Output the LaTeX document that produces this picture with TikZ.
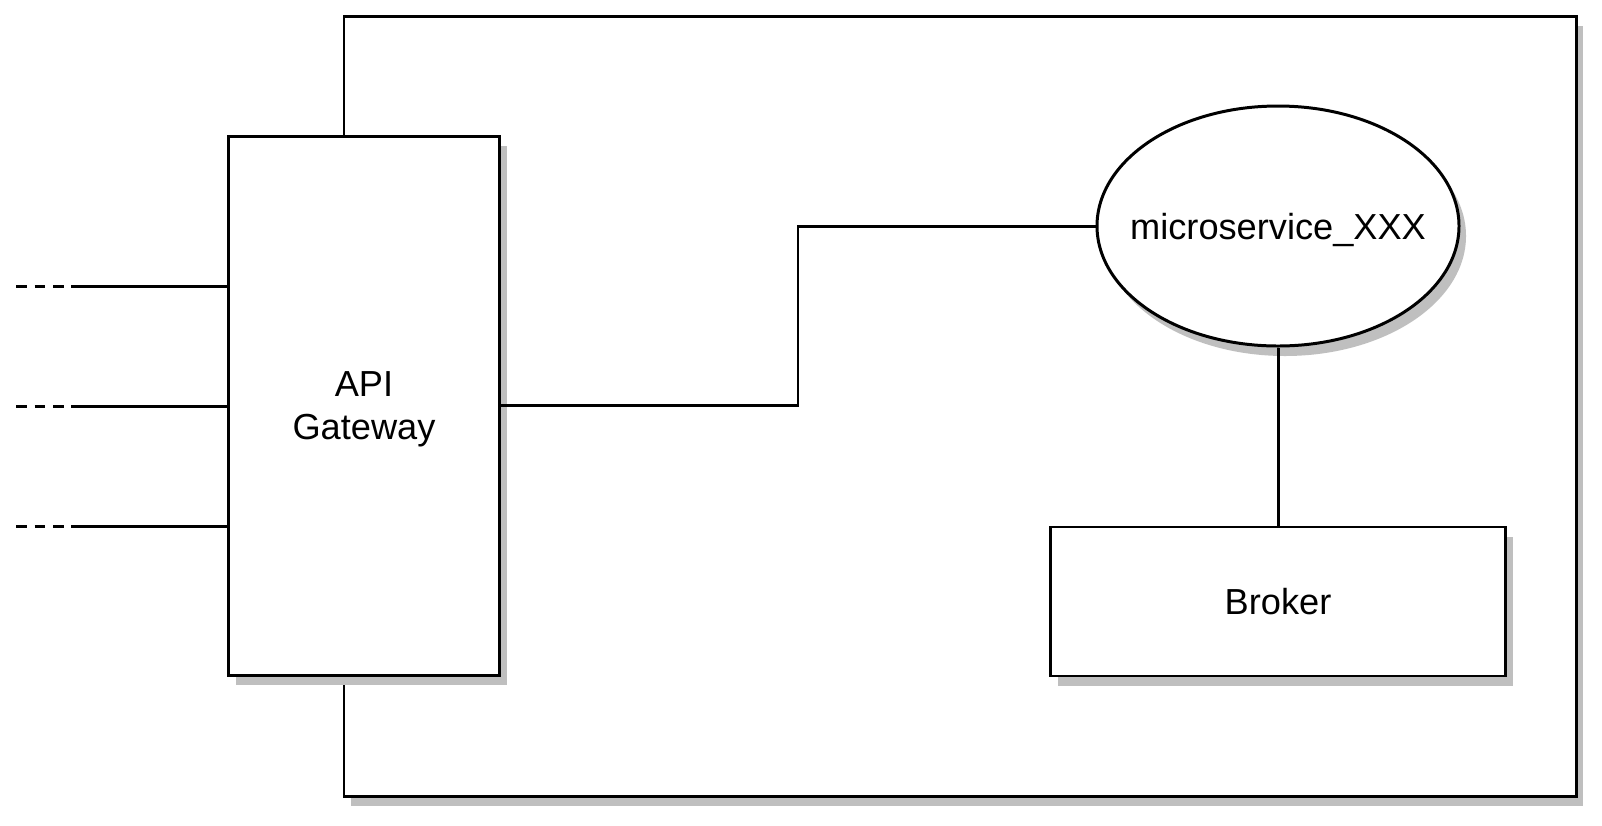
\documentclass[tikz,border=0pt]{standalone}
\usepackage{fontspec}
\setmainfont{Liberation Sans}
\usetikzlibrary{positioning,shapes.geometric,shadows}

\definecolor{shgray}{RGB}{191,191,191}
\tikzset{
  boxshadow/.style={drop shadow={shadow xshift=0.07cm,shadow yshift=-0.1cm,fill=shgray,opacity=1}},
  block/.style={draw,line width=0.85pt,fill=white,inner sep=0pt,text depth=0pt,align=center,boxshadow},
  wire/.style={line width=0.85pt},
}

\begin{document}
\begin{tikzpicture}[font=\fontsize{10.3pt}{12pt}\selectfont]
\useasboundingbox (0,0) rectangle (16.02,-8.25);

\node[block,minimum width=12.32cm,minimum height=7.80cm] (sys) at (9.60,-4.06) {};
\node[block,minimum width=2.71cm,minimum height=5.39cm] (gw) at (3.64,-4.055) {API\\Gateway};
\node[block,ellipse,minimum width=3.62cm,minimum height=2.40cm] (ms) at (12.78,-2.26) {\makebox[0pt]{microservice\_XXX}};
\node[block,minimum width=4.55cm,minimum height=1.49cm,below=1.78cm of ms] (br) {Broker};

\draw[wire] (gw.east) -- ++(2.97,0) |- (ms.west);
\draw[wire] (ms) -- (br);

% incoming calls
\foreach \i/\y in {1/-2.86,2/-4.06,3/-5.26}{
  \coordinate (a\i) at (0.16,\y);
  \coordinate (b\i) at (0.71,\y);
  \draw[wire,dash pattern=on 0.107cm off 0.08cm] (a\i) -- (b\i);
  \draw[wire] (b\i) -- (b\i -| gw.west);
}
\end{tikzpicture}
\end{document}
